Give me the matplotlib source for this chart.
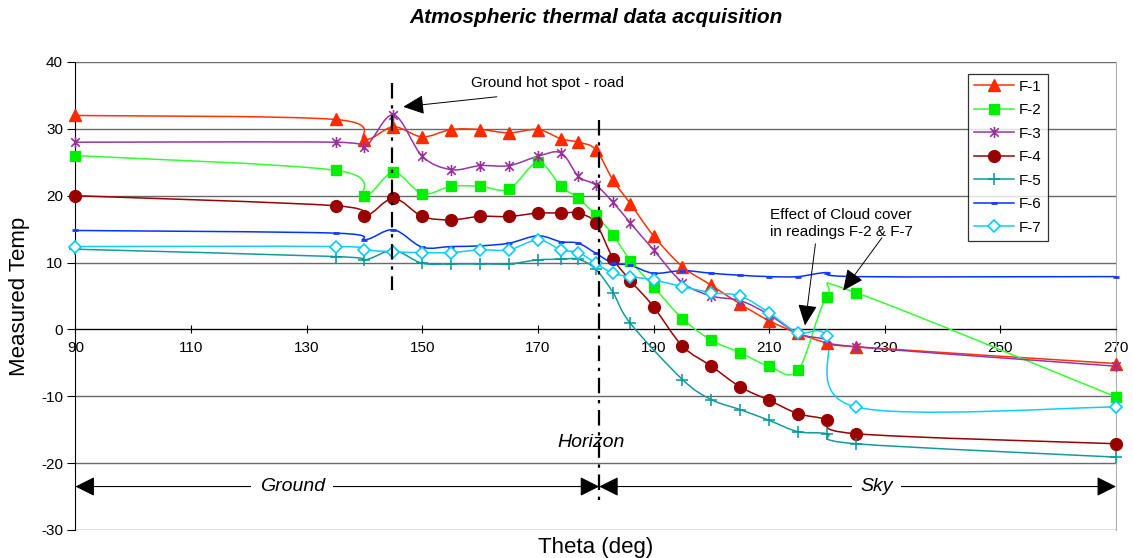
import numpy as np
import matplotlib
matplotlib.use("Agg")
import matplotlib.pyplot as plt
from matplotlib.path import Path
from matplotlib.patches import PathPatch
from matplotlib.lines import Line2D

plt.rcParams['font.family'] = ['Liberation Sans', 'DejaVu Sans']
plt.rcParams['axes.unicode_minus'] = False

# ---------------- data ----------------
theta = [90, 135, 140, 145, 150, 155, 160, 165, 170, 174, 177, 180,
         183, 186, 190, 195, 200, 205, 210, 215, 220, 225, 270]
# F-5 has no reading at 190
theta_f5 = [t for t in theta if t != 190]

f1 = [32.0, 31.4, 28.4, 30.3, 28.8, 29.9, 29.9, 29.4, 29.9, 28.5, 28.0, 26.9,
      22.3, 18.8, 14.0, 9.4, 6.6, 3.8, 1.3, -0.6, -2.0, -2.6, -5.1]
f2 = [26.0, 23.8, 20.0, 23.5, 20.3, 21.4, 21.4, 21.0, 25.0, 21.4, 19.6, 17.1,
      14.1, 10.3, 6.4, 1.6, -1.6, -3.5, -5.5, -6.1, 4.9, 5.5, -10.1]
f3 = [28.0, 28.0, 27.3, 32.1, 25.9, 23.9, 24.5, 24.5, 25.9, 26.4, 22.9, 21.6,
      19.0, 15.9, 11.9, 7.0, 5.0, 4.3, 2.2, -0.6, -1.5, -2.6, -5.5]
f4 = [20.0, 18.5, 16.9, 19.6, 16.9, 16.4, 16.9, 16.9, 17.4, 17.4, 17.4, 15.9,
      10.6, 7.3, 3.4, -2.5, -5.5, -8.6, -10.6, -12.6, -13.5, -15.6, -17.1]
f5 = [12.0, 10.9, 10.4, 11.8, 9.9, 9.8, 9.8, 9.8, 10.4, 10.5, 10.5, 9.0,
      5.5, 0.9, -7.5, -10.5, -12.0, -13.6, -15.3, -15.6, -17.1, -19.1]
f6 = [14.8, 14.4, 13.4, 14.9, 12.3, 12.4, 12.5, 12.9, 14.0, 13.1, 12.9, 11.4,
      9.9, 9.6, 8.4, 8.8, 8.4, 8.1, 7.9, 7.9, 8.5, 7.9, 7.9]
f7 = [12.4, 12.4, 11.9, 11.6, 11.5, 11.5, 11.9, 11.9, 13.4, 11.9, 11.5, 9.9,
      8.4, 7.9, 7.4, 6.4, 5.5, 5.0, 2.5, -0.5, -1.0, -11.6, -11.6]

labels = ['F-1', 'F-2', 'F-3', 'F-4', 'F-5', 'F-6', 'F-7']
xs = [theta, theta, theta, theta, theta_f5, theta, theta]
ys = [f1, f2, f3, f4, f5, f6, f7]

hot_spot_theta = 144.8
horizon_theta = 180.6


def star_marker():
    # Excel-like "star": an x with a vertical bar
    verts = [(-1, -1), (1, 1), (-1, 1), (1, -1), (0, -1.3), (0, 1.3)]
    codes = [Path.MOVETO, Path.LINETO] * 3
    return Path(verts, codes)


colors = ['#ff2a00', '#00ee00', '#993399', '#990000', '#009999', '#1a3cff', '#00ccff']
line_colors = ['#ff3300', '#33ff33', '#9933aa', '#990000', '#149b9b', '#0033ff', '#11ccff']
markers = ['^', 's', star_marker(), 'o', '+', '_', 'D']
msizes = [8, 7.5, 8, 8.5, 9, 5, 6]
mfaces = [colors[0], colors[1], 'none', colors[3], 'none', colors[5], 'white']
mews = [1, 1, 1.2, 1, 1.1, 2, 1.2]


def smooth_path(x, y):
    # Catmull-Rom style Bezier (like Excel "smoothed line")
    pts = np.column_stack([x, y]).astype(float)
    n = len(pts)
    verts = [pts[0]]
    codes = [Path.MOVETO]
    for i in range(n - 1):
        p0 = pts[i - 1] if i > 0 else pts[i]
        p1 = pts[i]
        p2 = pts[i + 1]
        p3 = pts[i + 2] if i + 2 < n else pts[i + 1]
        c1 = p1 + (p2 - p0) / 6.0
        c2 = p2 - (p3 - p1) / 6.0
        verts += [c1, c2, p2]
        codes += [Path.CURVE4] * 3
    return Path(verts, codes)


fig = plt.figure(figsize=(11.33, 5.58), dpi=100)
ax = fig.add_axes([0.0666, 0.0502, 0.9184, 0.8387])

ax.set_xlim(90, 270)
ax.set_ylim(-30, 40)

# horizontal gridlines
for yv in range(-30, 41, 10):
    ax.axhline(yv, color='#6a6a6a', lw=1.0, zorder=1)

for i in range(7):
    patch = PathPatch(smooth_path(xs[i], ys[i]), fill=False, edgecolor=line_colors[i],
                      lw=1.1, zorder=3, clip_on=False)
    ax.add_patch(patch)
    ax.plot(xs[i], ys[i], linestyle='none', marker=markers[i], ms=msizes[i],
            mfc=mfaces[i], mec=colors[i], mew=mews[i], zorder=4, clip_on=False)

# axes style
ax.spines['top'].set_visible(False)
ax.spines['right'].set_color('#b0b0b0')
ax.spines['left'].set_color('black')
ax.spines['bottom'].set_position(('data', 0))
ax.spines['bottom'].set_color('black')
ax.set_xticks(range(90, 271, 20))
ax.set_yticks(range(-30, 41, 10))
ax.tick_params(axis='x', direction='inout', length=6, pad=5, labelsize=11)
ax.tick_params(axis='y', direction='out', length=6, pad=3, labelsize=11)

# vertical dash-dot markers
ax.plot([hot_spot_theta, hot_spot_theta], [36.8, 5.9], color='black', lw=1.6,
        linestyle=(0, (7, 3, 1.5, 3)), zorder=5)
ax.plot([horizon_theta, horizon_theta], [31.3, -26.3], color='black', lw=1.6,
        linestyle=(0, (7, 3, 1.5, 3)), zorder=5)

arrow_kw = dict(arrowstyle='-|>,head_length=1.3,head_width=0.6', color='black', lw=0.7,
                shrinkA=0, shrinkB=0)

# Ground hot spot annotation
ax.text(171.6, 36.8, 'Ground hot spot - road', fontsize=11, ha='center', va='center')
ax.annotate('', xy=(146.7, 33.3), xytext=(162.9, 34.8), arrowprops=arrow_kw, zorder=6)

# cloud cover annotation
ax.text(210.2, 15.8, 'Effect of Cloud cover\nin readings F-2 & F-7', fontsize=11,
        ha='left', va='center', linespacing=1.3)
ax.annotate('', xy=(216.2, 0.6), xytext=(218.0, 12.8), arrowprops=arrow_kw, zorder=6)
ax.annotate('', xy=(222.8, 5.8), xytext=(229.5, 13.7), arrowprops=arrow_kw, zorder=6)

# Ground / Sky spans
span_kw = dict(arrowstyle='-|>,head_length=1.2,head_width=0.6', color='black', lw=0.8,
               shrinkA=0, shrinkB=0)
ax.annotate('', xy=(90, -23.5), xytext=(127.5, -23.5), arrowprops=span_kw, annotation_clip=False)
ax.annotate('', xy=(horizon_theta, -23.5), xytext=(127.5, -23.5), arrowprops=span_kw)
ax.text(127.5, -23.5, 'Ground', fontsize=14, style='italic', ha='center', va='center',
        bbox=dict(facecolor='white', edgecolor='none', pad=6), zorder=7)
ax.annotate('', xy=(horizon_theta, -23.5), xytext=(228.6, -23.5), arrowprops=span_kw)
ax.annotate('', xy=(270, -23.5), xytext=(228.6, -23.5), arrowprops=span_kw, annotation_clip=False)
ax.text(228.6, -23.5, 'Sky', fontsize=14, style='italic', ha='center', va='center',
        bbox=dict(facecolor='white', edgecolor='none', pad=6), zorder=7)
ax.text(179.2, -16.9, 'Horizon', fontsize=14, style='italic', ha='center',
        va='center', zorder=6)

# legend
handles = []
for i in range(7):
    handles.append(Line2D([], [], color=line_colors[i], lw=1.1, marker=markers[i],
                          ms=msizes[i], mfc=mfaces[i], mec=colors[i], mew=mews[i]))
leg = ax.legend(handles, labels, loc='upper left', bbox_to_anchor=(0.858, 0.975),
                fontsize=11, frameon=True, fancybox=False, handlelength=2.6,
                labelspacing=0.62, borderpad=0.4, handletextpad=0.3, borderaxespad=0)
leg.get_frame().set_edgecolor('black')
leg.get_frame().set_linewidth(0.9)
leg.set_zorder(8)

ax.set_ylabel('Measured Temp', fontsize=16, labelpad=8)
fig.text(0.526, 0.018, 'Theta (deg)', fontsize=16, ha='center', va='center')
fig.text(0.526, 0.968, 'Atmospheric thermal data acquisition', fontsize=15,
         fontweight='bold', style='italic', ha='center', va='center')

fig.savefig('out.png', dpi=100)
